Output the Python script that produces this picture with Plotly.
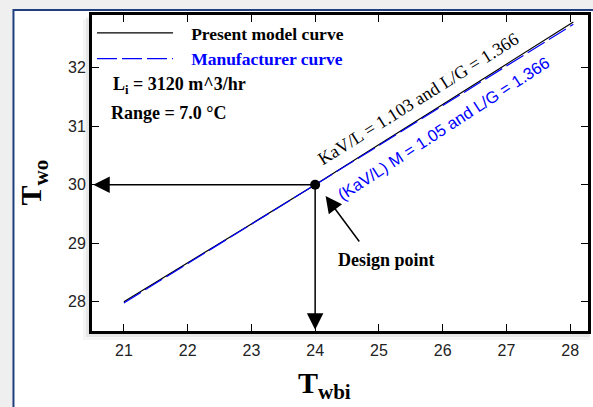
import plotly.graph_objects as go

# ---- data ----
twbi = [21.0, 22.0, 23.0, 24.0, 25.0, 26.0, 27.0, 28.05]
present_model = [28.0, 28.66, 29.33, 30.0, 30.68, 31.37, 32.06, 32.78]
manufacturer = [27.98, 28.65, 29.32, 30.0, 30.67, 31.35, 32.03, 32.74]
design_x = [24.0]
design_y = [30.0]
x_ticks = [21, 22, 23, 24, 25, 26, 27, 28]
y_ticks = [28, 29, 30, 31, 32]

W, H = 593, 407
ML, MR, MT, MB = 92, 2, 15, 76
X0, X1 = 20.5, 28.28
Y0, Y1 = 27.5, 32.9

def px(xp):
    return (xp - ML) / (W - ML - MR)

def py(yp):
    return (H - MB - yp) / (H - MT - MB)

def dx(xp):
    return X0 + (xp - ML) / (W - ML - MR) * (X1 - X0)

def dy(yp):
    return Y0 + (H - MB - yp) / (H - MT - MB) * (Y1 - Y0)

SERIF = "Liberation Serif, Times New Roman, serif"
SANS = "Liberation Sans, Arial, sans-serif"

fig = go.Figure()
fig.add_trace(go.Scatter(x=twbi, y=present_model, mode="lines",
                         name="&nbsp;&nbsp;&nbsp;<b>Present model curve</b>",
                         line=dict(color="black", width=1.2)))
fig.add_trace(go.Scatter(x=twbi, y=manufacturer, mode="lines",
                         name="&nbsp;&nbsp;&nbsp;<b><span style='color:#0000ff'>Manufacturer curve</span></b>",
                         line=dict(color="#0000ff", width=1.2, dash="20px,5px")))
fig.add_trace(go.Scatter(x=design_x, y=design_y, mode="markers", showlegend=False,
                         marker=dict(color="black", size=10)))

shapes = [
    dict(type="rect", xref="paper", yref="paper", x0=px(13), x1=px(W + 5), y0=py(10), y1=py(H + 5),
         fillcolor="white", line=dict(color="#1f3f80", width=2), layer="below"),
    # soft shadow around the frame
    dict(type="rect", xref="paper", yref="paper", x0=px(83), x1=px(W), y0=py(19), y1=py(340),
         fillcolor="rgba(0,0,0,0.04)", line=dict(width=0), layer="below"),
    dict(type="rect", xref="paper", yref="paper", x0=px(86), x1=px(W), y0=py(17), y1=py(337),
         fillcolor="rgba(0,0,0,0.06)", line=dict(width=0), layer="below"),
    dict(type="rect", xref="paper", yref="paper", x0=px(89), x1=px(W), y0=py(16), y1=py(334),
         fillcolor="rgba(0,0,0,0.08)", line=dict(width=0), layer="below"),
    # plot area background
    dict(type="rect", xref="paper", yref="paper", x0=0, x1=1, y0=0, y1=1,
         fillcolor="white", line=dict(width=0), layer="below"),
]

annotations = [
    dict(xref="x", yref="y", x=X0 + 0.02, y=30, ax=24, ay=30, axref="x", ayref="y",
         text="", showarrow=True, arrowhead=2, arrowsize=2.2, arrowwidth=1.5, arrowcolor="black"),
    dict(xref="x", yref="y", x=24, y=Y0 + 0.02, ax=24, ay=30, axref="x", ayref="y",
         text="", showarrow=True, arrowhead=2, arrowsize=2.2, arrowwidth=1.5, arrowcolor="black"),
    dict(xref="x", yref="y", x=dx(327), y=dy(196), ax=dx(362), ay=dy(243), axref="x", ayref="y",
         text="", showarrow=True, arrowhead=2, arrowsize=2.2, arrowwidth=1.5, arrowcolor="black"),
    dict(xref="x", yref="y", x=dx(388), y=dy(260), xanchor="center", yanchor="middle",
         text="<b>Design point</b>", showarrow=False,
         font=dict(family=SERIF, size=18, color="black")),
    dict(xref="x", yref="y", x=dx(420), y=dy(99), xanchor="center", yanchor="middle",
         text="KaV/L = 1.103 and L/G = 1.366",
         showarrow=False, textangle=-32, font=dict(family=SERIF, size=18, color="black")),
    dict(xref="x", yref="y", x=dx(446), y=dy(128), xanchor="center", yanchor="middle",
         text="(KaV/L) M = 1.05 and L/G = 1.366",
         showarrow=False, textangle=-33, font=dict(family=SANS, size=16.5, color="#0000ff")),
    dict(xref="paper", yref="paper", x=px(111), y=py(86), xanchor="left", yanchor="middle",
         text="<b>L<sub>i</sub> = 3120 m^3/hr</b>", showarrow=False,
         font=dict(family=SERIF, size=18, color="black")),
    dict(xref="paper", yref="paper", x=px(109), y=py(113), xanchor="left", yanchor="middle",
         text="<b>Range = 7.0 °C</b>", showarrow=False,
         font=dict(family=SERIF, size=18, color="black")),
    dict(xref="paper", yref="paper", x=px(326), y=py(406), xanchor="center", yanchor="bottom",
         text="<b>T<sub>wbi</sub></b>", showarrow=False,
         font=dict(family=SERIF, size=30, color="black")),
    dict(xref="paper", yref="paper", x=px(12), y=py(182), xanchor="left", yanchor="middle",
         textangle=-90, text="<b>T<sub>wo</sub></b>", showarrow=False,
         font=dict(family=SERIF, size=30, color="black")),
]

axis_common = dict(showline=True, linewidth=3, linecolor="black", mirror="ticks",
                   ticks="inside", ticklen=7, tickwidth=1, tickcolor="black",
                   showgrid=False, zeroline=False,
                   tickfont=dict(family=SANS, size=16, color="#222222"))

fig.update_layout(
    width=W, height=H,
    margin=dict(l=ML, r=MR, t=MT, b=MB),
    paper_bgcolor="#efefef", plot_bgcolor="white",
    xaxis=dict(range=[X0, X1], tickvals=x_ticks, ticklabelstandoff=3, **axis_common),
    yaxis=dict(range=[Y0, Y1], tickvals=y_ticks, **axis_common),
    shapes=shapes, annotations=annotations,
    showlegend=True,
    legend=dict(x=0.0, y=1.0, xanchor="left", yanchor="top", bgcolor="rgba(0,0,0,0)",
                itemwidth=76, font=dict(family=SERIF, size=17.5, color="black"),
                tracegroupgap=0),
)

fig.write_html("out.html", config={"displayModeBar": False},
               post_script="document.body.style.margin='0';document.body.style.overflow='hidden';")
